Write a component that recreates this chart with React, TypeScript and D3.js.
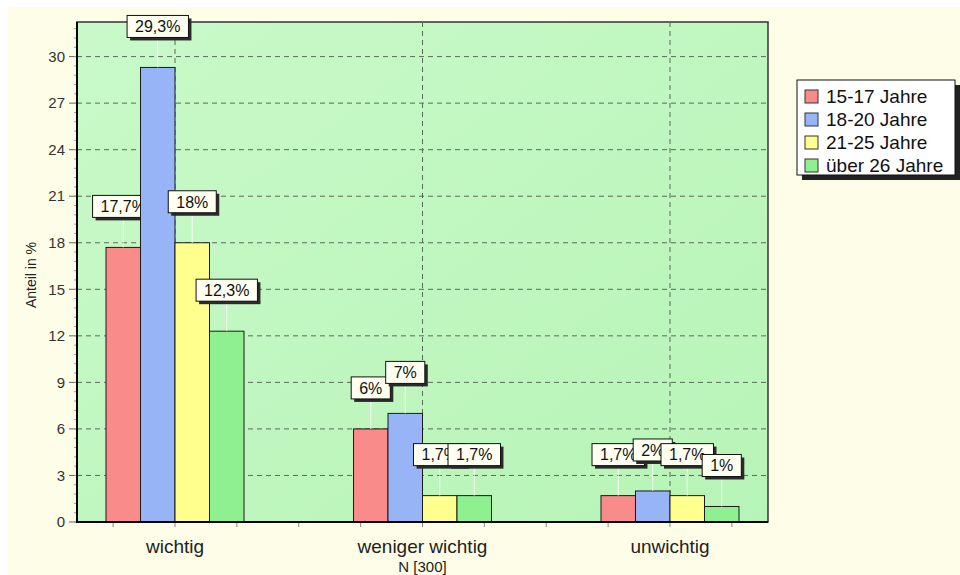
import React from "react";
import * as d3 from "d3";

// Share of respondents per age group and importance rating (in %)
const categories = ["wichtig", "weniger wichtig", "unwichtig"];
const seriesNames = ["15-17 Jahre", "18-20 Jahre", "21-25 Jahre", "über 26 Jahre"];
const age15to17 = [17.7, 6, 1.7];
const age18to20 = [29.3, 7, 2];
const age21to25 = [18, 1.7, 1.7];
const age26plus = [12.3, 1.7, 1];
const seriesColors = ["#fa8b8b", "#97b4f6", "#ffff8e", "#8ef08e"];
const yTicks = [0, 3, 6, 9, 12, 15, 18, 21, 24, 27, 30];
const yTitle = "Anteil in %";
const xNote = "N [300]";

const seriesValues = [age15to17, age18to20, age21to25, age26plus];

const W = 960;
const H = 575;
const plot = { left: 77, right: 768, top: 22, bottom: 522 };
const FONT = "'Liberation Sans', Arial, sans-serif";

const fmt = (v: number) => String(v).replace(".", ",") + "%";

export default function App() {
  const yMax = d3.max(seriesValues.flat())! * 1.1;
  const y = d3.scaleLinear().domain([0, yMax]).range([plot.bottom, plot.top]);
  const x = d3
    .scalePoint<string>()
    .domain(categories)
    .range([plot.left, plot.right])
    .padding(0.396);
  const step = x.step();
  const groupW = 138;
  const inner = d3
    .scaleBand<number>()
    .domain(d3.range(seriesNames.length))
    .range([-groupW / 2, groupW / 2])
    .padding(0);

  const minorX = d3.range(-1, 10).map((k) => x(categories[0])! + (k * step) / 4);
  const minorY = d3.range(0, yMax, 0.6);

  const labelH = 22;
  const labelGap = 30;
  const labelFont = 16;
  const measure = (s: string) => {
    const w: Record<string, number> = { ",": 0.278, "%": 0.889 };
    return s.split("").reduce((a, c) => a + (w[c] ?? 0.556), 0) * labelFont;
  };

  return (
    <svg
      width={W}
      height={H}
      style={{ position: "absolute", left: 0, top: 0, display: "block" }}
      fontFamily={FONT}
    >
      <defs>
        <linearGradient id="plotBg" x1="0" y1="0" x2="1" y2="1">
          <stop offset="0%" stopColor="#c9f9c9" />
          <stop offset="100%" stopColor="#b7f4b7" />
        </linearGradient>
      </defs>
      <rect x={0} y={0} width={W} height={H} fill="#ffffff" />
      <rect x={7} y={7} width={W - 7} height={H - 7} fill="#fefde7" />

      {/* plot area */}
      <rect
        x={plot.left}
        y={plot.top}
        width={plot.right - plot.left}
        height={plot.bottom - plot.top}
        fill="url(#plotBg)"
        stroke="#333"
        strokeWidth={1.5}
      />

      {/* horizontal grid + y ticks */}
      {yTicks.map((t) => (
        <g key={"y" + t}>
          {t > 0 && (
            <line
              x1={plot.left}
              x2={plot.right}
              y1={y(t)}
              y2={y(t)}
              stroke="#5a6a5a"
              strokeDasharray="5,4"
            />
          )}
          <line x1={plot.left - 8} x2={plot.left} y1={y(t)} y2={y(t)} stroke="#666" />
          <text
            x={plot.left - 12}
            y={y(t)}
            dy="0.35em"
            textAnchor="end"
            fontSize={15}
            fill="#333"
          >
            {t}
          </text>
        </g>
      ))}
      {minorY.map((v, i) => (
        <line
          key={"my" + i}
          x1={plot.left - 3}
          x2={plot.left}
          y1={y(v)}
          y2={y(v)}
          stroke="#999"
        />
      ))}

      {/* vertical grid at category centres */}
      {categories.map((c) => (
        <line
          key={"gx" + c}
          x1={x(c)}
          x2={x(c)}
          y1={plot.top}
          y2={plot.bottom}
          stroke="#5a6a5a"
          strokeDasharray="5,4"
        />
      ))}

      {/* x ticks */}
      {minorX.map((px, i) => (
        <line
          key={"mx" + i}
          x1={px}
          x2={px}
          y1={plot.bottom}
          y2={plot.bottom + 5}
          stroke="#888"
        />
      ))}

      {/* bars and value labels, series by series */}
      {seriesValues.map((vals, s) => (
        <g key={"s" + s}>
          {vals.map((v, ci) => {
            const cx0 = x(categories[ci])! + inner(s)!;
            const bw = inner.bandwidth();
            const cx = cx0 + bw / 2;
            const top = y(v);
            const label = fmt(v);
            const lw = measure(label) + 16;
            const boxBottom = top - labelGap;
            const boxTop = boxBottom - labelH;
            return (
              <g key={"b" + ci}>
                <rect
                  x={cx0}
                  y={top}
                  width={bw}
                  height={plot.bottom - top}
                  fill={seriesColors[s]}
                  stroke="#1a1a1a"
                  strokeWidth={1}
                />
                <line
                  x1={cx}
                  x2={cx}
                  y1={top}
                  y2={boxBottom}
                  stroke="#ffffff"
                  strokeOpacity={0.85}
                />
                <rect
                  x={cx - lw / 2 + 3}
                  y={boxTop + 3}
                  width={lw}
                  height={labelH}
                  fill="#2a2a2a"
                />
                <rect
                  x={cx - lw / 2}
                  y={boxTop}
                  width={lw}
                  height={labelH}
                  fill="#fffff2"
                  stroke="#111"
                />
                <text
                  x={cx}
                  y={boxTop + labelH / 2}
                  dy="0.36em"
                  textAnchor="middle"
                  fontSize={labelFont}
                  fill="#111"
                >
                  {label}
                </text>
              </g>
            );
          })}
        </g>
      ))}

      {/* axes */}
      <line
        x1={plot.left}
        x2={plot.left}
        y1={plot.top}
        y2={plot.bottom + 1}
        stroke="#000"
        strokeWidth={2}
      />
      <line
        x1={plot.left}
        x2={plot.right}
        y1={plot.bottom}
        y2={plot.bottom}
        stroke="#000"
        strokeWidth={2}
      />

      {/* category labels */}
      {categories.map((c) => (
        <text
          key={"cl" + c}
          x={x(c)}
          y={553}
          textAnchor="middle"
          fontSize={19}
          fill="#222"
        >
          {c}
        </text>
      ))}
      <text x={x(categories[1])} y={572} textAnchor="middle" fontSize={15} fill="#222">
        {xNote}
      </text>

      {/* y axis title */}
      <text
        transform={`translate(36, ${(plot.top + plot.bottom) / 2 + 3}) rotate(-90)`}
        textAnchor="middle"
        fontSize={14}
        fill="#222"
      >
        {yTitle}
      </text>

      {/* legend */}
      <g>
        <rect x={802} y={85} width={158} height={95} fill="#222" />
        <rect x={797} y={80} width={158} height={95} fill="#ffffff" stroke="#111" />
        {seriesNames.map((n, i) => {
          const cy = 96.5 + i * 23;
          return (
            <g key={"lg" + n}>
              <rect
                x={805}
                y={cy - 6.5}
                width={13}
                height={13}
                fill={seriesColors[i]}
                stroke="#333"
              />
              <text x={826} y={cy} dy="0.36em" fontSize={19} fill="#111">
                {n}
              </text>
            </g>
          );
        })}
      </g>
    </svg>
  );
}
